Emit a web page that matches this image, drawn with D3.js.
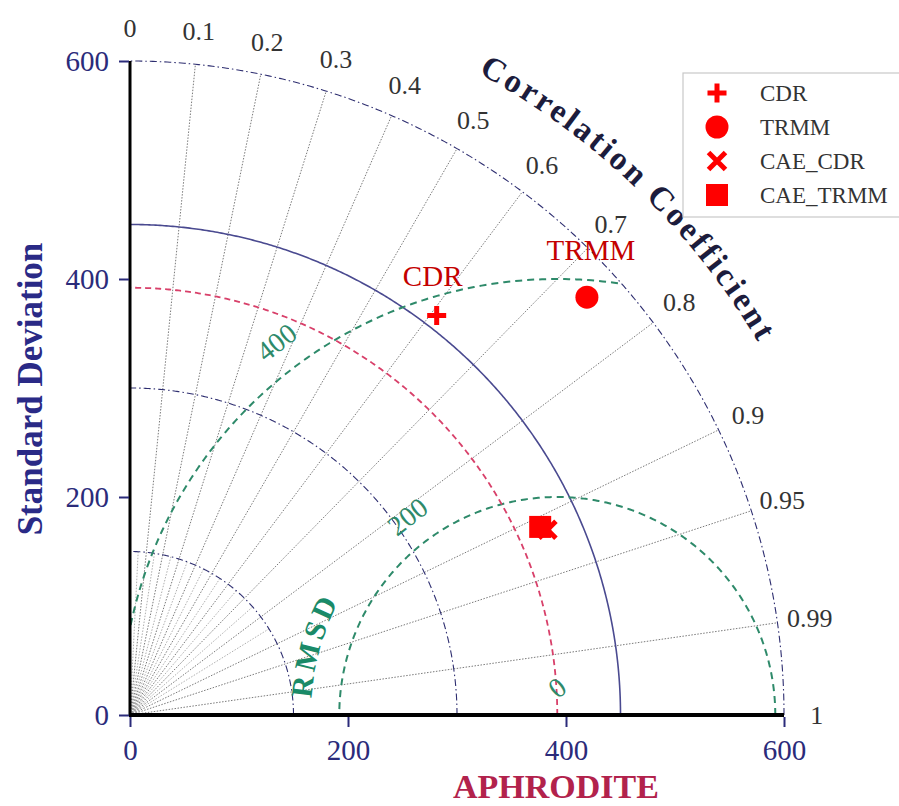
<!DOCTYPE html>
<html>
<head>
<meta charset="utf-8">
<script src="https://cdn.jsdelivr.net/npm/d3@7"></script>
<style>
  body { margin: 0; background: #fff; }
  svg { display: block; font-family: "Liberation Serif", "Times New Roman", serif; }
</style>
</head>
<body>
<svg id="chart" width="899" height="806"></svg>
<script>
// data
var refStd = 392;
var models = ["CDR", "TRMM", "CAE_CDR", "CAE_TRMM"];
var modelStd = [462, 568, 419, 414];
var modelCorr = [0.609, 0.738, 0.914, 0.909];
var pointLabels = ["CDR", "TRMM"];
var stdTicks = [0, 200, 400, 600];
var stdArcs = [150, 300, 450, 600];
var corrTicks = [0, 0.1, 0.2, 0.3, 0.4, 0.5, 0.6, 0.7, 0.8, 0.9, 0.95, 0.99, 1];
var corrMinor = [0.05, 0.15, 0.25, 0.35, 0.45, 0.55, 0.65, 0.75, 0.85];
var rmsdLevels = [200, 400];
var rmsdLabels = [0, 200, 400];

var svg = d3.select("#chart");
var x = d3.scaleLinear().domain([0, 600]).range([130, 784]);
var y = d3.scaleLinear().domain([0, 600]).range([715, 61]);
var rad = Math.PI / 180;

function px(s, c) { return x(s * c); }
function py(s, c) { return y(s * Math.sqrt(1 - c * c)); }

var angles = d3.range(0, 90.25, 0.25);
var arcLine = function(r) {
  return d3.line()
    .x(function(a) { return x(r * Math.cos(a * rad)); })
    .y(function(a) { return y(r * Math.sin(a * rad)); })(angles);
};

// clip to the quarter disc
svg.append("clipPath").attr("id", "quad")
  .append("path")
  .attr("d", arcLine(600) + "L" + x(0) + "," + y(0) + "Z");

// correlation rays
var g = svg.append("g");
g.selectAll(".ray").data(corrTicks.slice(1, -1)).enter().append("line")
  .attr("x1", x(0)).attr("y1", y(0))
  .attr("x2", function(c) { return px(600, c); })
  .attr("y2", function(c) { return py(600, c); })
  .attr("stroke", "#7a7a7a").attr("stroke-width", 1)
  .attr("stroke-dasharray", "1.5,1.5");
g.selectAll(".minor").data(corrMinor).enter().append("line")
  .attr("x1", x(0)).attr("y1", y(0))
  .attr("x2", function(c) { return px(150, c); })
  .attr("y2", function(c) { return py(150, c); })
  .attr("stroke", "#9a9a9a").attr("stroke-width", 0.8)
  .attr("stroke-dasharray", "1.5,1.5");

// std arcs
g.selectAll(".arc").data(stdArcs).enter().append("path")
  .attr("d", function(r) { return arcLine(r); })
  .attr("fill", "none")
  .attr("stroke", function(r) { return r === 450 ? "#4a4a90" : "#2e2e70"; })
  .attr("stroke-width", function(r) { return r === 450 ? 1.6 : 1.1; })
  .attr("stroke-dasharray", function(r) { return r === 450 ? null : "7,3,1.5,3"; });

// RMSD circles
var half = d3.range(0, 180.5, 0.5);
g.selectAll(".rmsd").data(rmsdLevels).enter().append("path")
  .attr("clip-path", "url(#quad)")
  .attr("d", function(r) {
    return d3.line()
      .x(function(a) { return x(refStd + r * Math.cos(a * rad)); })
      .y(function(a) { return y(r * Math.sin(a * rad)); })(half);
  })
  .attr("fill", "none").attr("stroke", "#2e8a6a").attr("stroke-width", 2)
  .attr("stroke-dasharray", "7,5");

// reference std arc
g.append("path").attr("d", arcLine(refStd))
  .attr("fill", "none").attr("stroke", "#d8406a").attr("stroke-width", 1.8)
  .attr("stroke-dasharray", "6,4");

// RMSD labels
svg.selectAll(".rl").data(rmsdLabels).enter().append("text")
  .attr("transform", function(r) {
    var a = 127 * rad, d = r === 0 ? 0 : r + 28;
    var cx = r === 0 ? x(refStd) : x(refStd + d * Math.cos(a));
    var cy = r === 0 ? y(25) : y(d * Math.sin(a));
    return "translate(" + cx + "," + cy + ") rotate(-38)";
  })
  .attr("text-anchor", "middle").attr("dominant-baseline", "central")
  .attr("fill", "#2e8a6a").attr("font-size", 28)
  .text(function(r) { return r; });

// axes
svg.append("line").attr("x1", x(0)).attr("x2", x(0)).attr("y1", y(0)).attr("y2", y(600))
  .attr("stroke", "#000").attr("stroke-width", 3);
svg.append("line").attr("x1", x(0) - 1).attr("x2", x(600)).attr("y1", y(0)).attr("y2", y(0))
  .attr("stroke", "#000").attr("stroke-width", 4);

var yAxis = svg.append("g").attr("transform", "translate(" + (x(0) - 1) + ",0)")
  .call(d3.axisLeft(y).tickValues(stdTicks).tickSize(10).tickPadding(10).tickFormat(d3.format("d")));
var xAxis = svg.append("g").attr("transform", "translate(0," + (y(0) + 2) + ")")
  .call(d3.axisBottom(x).tickValues(stdTicks).tickSize(10).tickPadding(12).tickFormat(d3.format("d")));
[yAxis, xAxis].forEach(function(a) {
  a.select(".domain").remove();
  a.selectAll("line").attr("stroke", "#2b2b7a").attr("stroke-width", 2);
  a.selectAll("text").attr("fill", "#2b2b7a").attr("font-size", 29)
    .attr("font-family", "Liberation Serif, Times New Roman, serif");
});

// correlation tick labels
svg.selectAll(".cl").data(corrTicks).enter().append("text")
  .attr("x", function(c) { return px(630, c); })
  .attr("y", function(c) { return py(630, c); })
  .attr("text-anchor", "middle").attr("dominant-baseline", "central")
  .attr("fill", "#333").attr("font-size", 26)
  .text(function(c) { return c; });

// curved titles
var R = 670;
var a0 = 76 * rad, a1 = 16 * rad;
svg.append("path").attr("id", "ccPath").attr("fill", "none")
  .attr("d", "M" + px(R, Math.cos(a0)) + "," + py(R, Math.cos(a0)) +
    " A" + (x(R) - x(0)) + "," + (x(R) - x(0)) + " 0 0 1 " + px(R, Math.cos(a1)) + "," + py(R, Math.cos(a1)));
svg.append("text").attr("font-size", 33).attr("font-weight", "bold").attr("fill", "#1c1c3c")
  .attr("letter-spacing", 3)
  .append("textPath").attr("href", "#ccPath").attr("startOffset", "50%").attr("text-anchor", "middle")
  .text("Correlation Coefficient");

var Rr = 226;
var b0 = 200 * rad, b1 = 128 * rad;
svg.append("path").attr("id", "rmsPath").attr("fill", "none")
  .attr("d", "M" + x(refStd + Rr * Math.cos(b0)) + "," + y(Rr * Math.sin(b0)) +
    " A" + (x(Rr) - x(0)) + "," + (x(Rr) - x(0)) + " 0 0 1 " + x(refStd + Rr * Math.cos(b1)) + "," + y(Rr * Math.sin(b1)));
svg.append("text").attr("font-size", 30).attr("font-weight", "bold").attr("fill", "#1a8a68")
  .attr("letter-spacing", 4)
  .append("textPath").attr("href", "#rmsPath").attr("startOffset", "50%").attr("text-anchor", "middle")
  .text("RMSD");

svg.append("text").attr("transform", "translate(42,389) rotate(-90)")
  .attr("text-anchor", "middle").attr("font-size", 35).attr("font-weight", "bold")
  .attr("fill", "#2a2a86").text("Standard Deviation");
svg.append("text").attr("x", 556).attr("y", 798)
  .attr("text-anchor", "middle").attr("font-size", 34).attr("font-weight", "bold")
  .attr("fill", "#b2224c").text("APHRODITE");

// markers
var shapes = [d3.symbolPlus || d3.symbolCross, d3.symbolCircle, d3.symbolTimes || d3.symbolX, d3.symbolSquare];
var sizes = [120, 415, 190, 484];
var stroked = [true, false, true, false];
function marker(sel, i) {
  sel.attr("d", d3.symbol().type(shapes[i]).size(sizes[i])())
    .attr("fill", stroked[i] ? "none" : "#f00")
    .attr("stroke", stroked[i] ? "#f00" : "none")
    .attr("stroke-width", stroked[i] ? 5 : 0);
}
models.forEach(function(m, i) {
  svg.append("path")
    .attr("transform", "translate(" + px(modelStd[i], modelCorr[i]) + "," + py(modelStd[i], modelCorr[i]) + ")")
    .call(marker, i);
});

// point labels
var labelPos = [[-4, -30], [4, -37]];
pointLabels.forEach(function(name, k) {
  var i = models.indexOf(name);
  svg.append("text")
    .attr("x", px(modelStd[i], modelCorr[i]) + labelPos[k][0])
    .attr("y", py(modelStd[i], modelCorr[i]) + labelPos[k][1])
    .attr("text-anchor", "middle").attr("font-size", 29).attr("fill", "#c40000")
    .text(name);
});

// legend
var lg = svg.append("g").attr("transform", "translate(683,73)");
lg.append("rect").attr("width", 230).attr("height", 144)
  .attr("fill", "#fff").attr("stroke", "#c8c8c8").attr("stroke-width", 1.2);
models.forEach(function(m, i) {
  var yy = 20 + i * 34;
  lg.append("path").attr("transform", "translate(34," + yy + ")").call(marker, i);
  lg.append("text").attr("x", 77).attr("y", yy).attr("dominant-baseline", "central")
    .attr("font-size", 23).attr("fill", "#333").text(m);
});
</script>
</body>
</html>
